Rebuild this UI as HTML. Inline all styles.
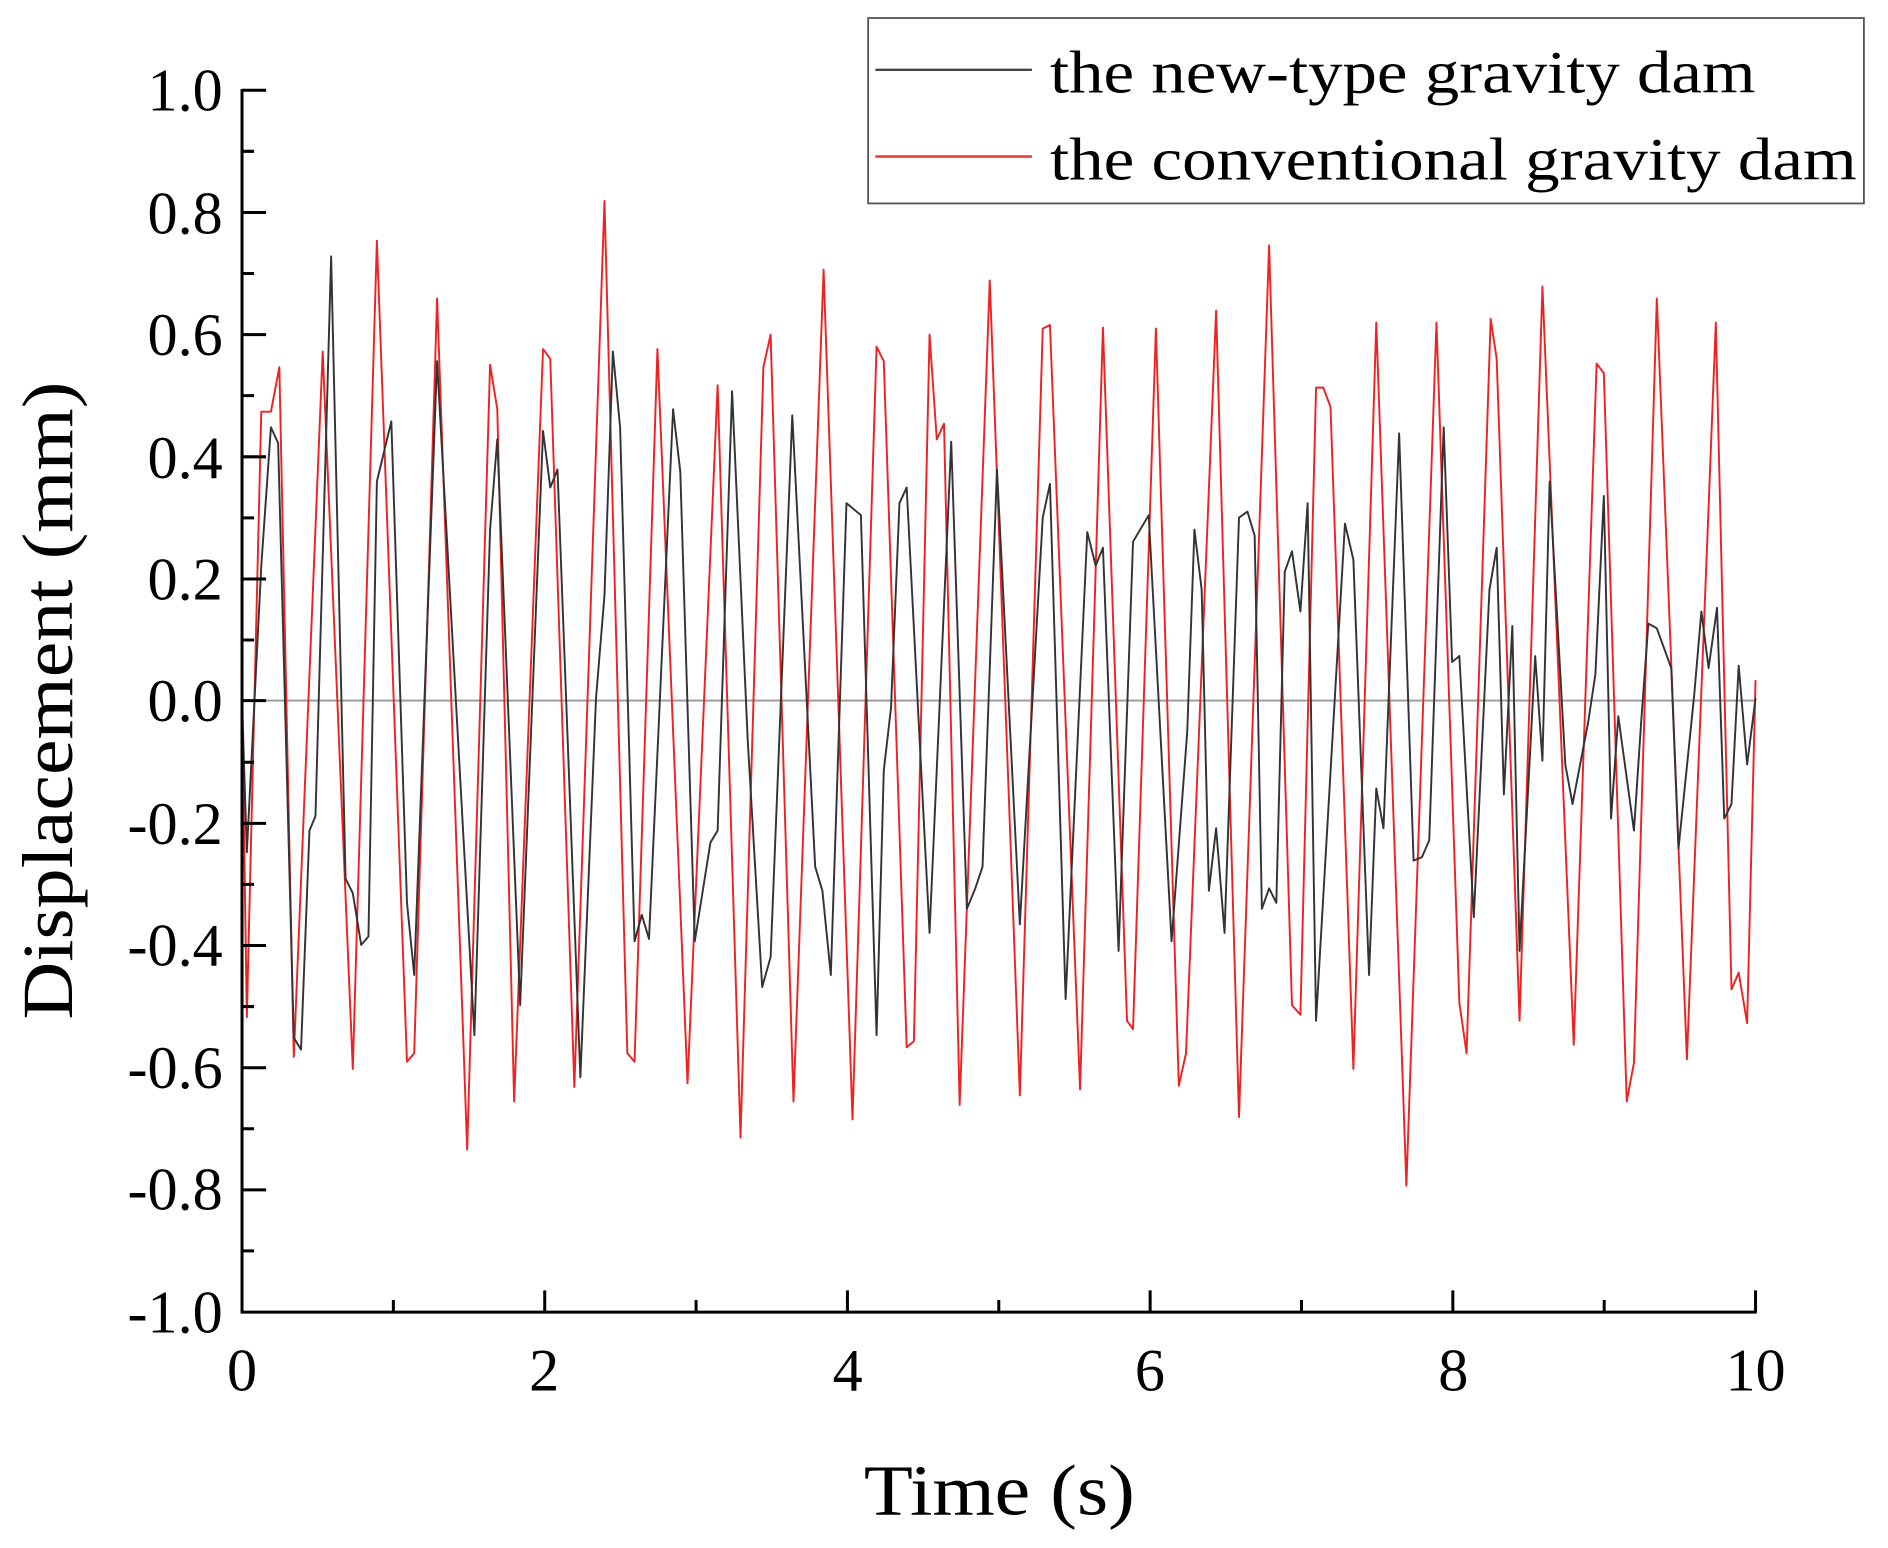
<!DOCTYPE html>
<html><head><meta charset="utf-8"><style>html,body{margin:0;padding:0;background:#fff;}svg{display:block;}text{font-family:"Liberation Serif",serif;}</style></head>
<body>
<svg width="1888" height="1548" viewBox="0 0 1568 1286" preserveAspectRatio="none" xmlns="http://www.w3.org/2000/svg">
<rect width="1568" height="1286" fill="#fff"/>
<line x1="201" y1="582" x2="1458" y2="582" stroke="#999" stroke-width="1.5"/>
<polyline fill="none" stroke="#ee2222" stroke-width="1.6" stroke-linejoin="round" points="201,582 205,845 217,342 225,342 232,305 244,878 268,292 293,888 313,200 338,882 344,875 363,248 388,955 407,303 413,340 427,915 451,290 457,298 477,903 502,167 521,875 527,882 546,290 571,900 596,320 615,945 634,305 640,278 659,915 684,224 708,930 728,288 734,300 753,870 759,865 772,278 778,365 784,352 797,918 822,233 847,910 866,273 872,270 897,905 916,272 936,848 941,855 960,273 979,902 985,875 1010,258 1029,928 1054,204 1073,835 1080,843 1093,322 1099,322 1105,338 1124,888 1143,268 1168,985 1193,268 1212,833 1218,875 1238,265 1243,298 1262,848 1281,238 1307,868 1326,302 1332,310 1351,915 1357,883 1376,248 1401,880 1425,268 1438,822 1444,808 1451,850 1458,565"/>
<polyline fill="none" stroke="#333" stroke-width="1.6" stroke-linejoin="round" points="201,582 205,708 217,470 225,355 231,368 244,862 250,872 257,690 262,678 275,213 287,730 293,742 300,785 306,778 313,400 325,350 338,750 344,810 363,300 394,860 407,440 413,365 432,835 451,358 457,405 463,390 482,895 495,580 502,495 509,292 515,355 527,782 533,760 539,780 559,340 565,392 577,782 590,700 596,690 608,325 621,615 633,820 640,795 658,345 677,720 683,740 690,810 703,418 715,428 728,860 734,640 740,588 747,418 753,405 772,775 790,367 803,755 810,738 816,720 828,390 847,768 866,430 872,402 885,830 903,442 910,470 916,455 929,790 941,450 954,428 973,782 986,608 992,440 998,490 1004,740 1010,688 1017,775 1029,430 1036,425 1042,445 1048,755 1054,738 1060,750 1067,475 1073,458 1080,508 1086,418 1093,848 1117,435 1124,465 1137,810 1143,655 1149,688 1162,360 1174,715 1181,712 1187,698 1199,355 1206,550 1212,545 1224,762 1237,490 1243,455 1249,660 1256,520 1262,790 1275,545 1281,632 1287,400 1300,635 1306,668 1319,600 1325,560 1332,412 1338,680 1344,595 1357,690 1363,600 1369,518 1376,522 1388,555 1394,705 1407,578 1413,508 1419,555 1426,505 1432,680 1438,668 1444,553 1451,635 1458,580"/>
<g stroke="#000" stroke-width="2.5" fill="none">
<line x1="201" y1="74" x2="201" y2="1091"/>
<line x1="200" y1="1090" x2="1459" y2="1090"/>
<path d="M201 75h20M201 176.5h20M201 278h20M201 379.5h20M201 481h20M201 582h20M201 684h20M201 785.5h20M201 887h20M201 988.5h20"/>
<path d="M201 125.7h10M201 227.2h10M201 328.7h10M201 430.2h10M201 531.7h10M201 633.2h10M201 734.7h10M201 836.2h10M201 937.7h10M201 1039.2h10"/>
<path d="M452.4 1090v-18M703.8 1090v-18M955.2 1090v-18M1206.6 1090v-18M1458 1090v-18"/>
<path d="M326.7 1090v-10M578.1 1090v-10M829.5 1090v-10M1080.9 1090v-10M1332.3 1090v-10"/>
</g>
<g font-size="50" text-anchor="end" fill="#000">
<text x="185" y="92">1.0</text>
<text x="185" y="194">0.8</text>
<text x="185" y="295">0.6</text>
<text x="185" y="397">0.4</text>
<text x="185" y="498">0.2</text>
<text x="185" y="599">0.0</text>
<text x="185" y="701">-0.2</text>
<text x="185" y="802">-0.4</text>
<text x="185" y="904">-0.6</text>
<text x="185" y="1005">-0.8</text>
<text x="185" y="1107">-1.0</text>
</g>
<g font-size="50" text-anchor="middle" fill="#000">
<text x="201" y="1155">0</text>
<text x="452" y="1155">2</text>
<text x="704" y="1155">4</text>
<text x="955" y="1155">6</text>
<text x="1207" y="1155">8</text>
<text x="1458" y="1155">10</text>
</g>
<text x="830" y="1258" font-size="60" text-anchor="middle" textLength="225" lengthAdjust="spacingAndGlyphs">Time (s)</text>
<text transform="translate(60,582) rotate(-90)" font-size="60" text-anchor="middle" textLength="530" lengthAdjust="spacingAndGlyphs">Displacement (mm)</text>
<rect x="721" y="15" width="827" height="154" fill="#fff" stroke="#555" stroke-width="1.5"/>
<line x1="727" y1="58" x2="857" y2="58" stroke="#444" stroke-width="2"/>
<line x1="727" y1="130" x2="857" y2="130" stroke="#ee3333" stroke-width="2"/>
<text x="872" y="77" font-size="50" textLength="586" lengthAdjust="spacingAndGlyphs">the new-type gravity dam</text>
<text x="872" y="149" font-size="50" textLength="670" lengthAdjust="spacingAndGlyphs">the conventional gravity dam</text>
</svg>
</body></html>
